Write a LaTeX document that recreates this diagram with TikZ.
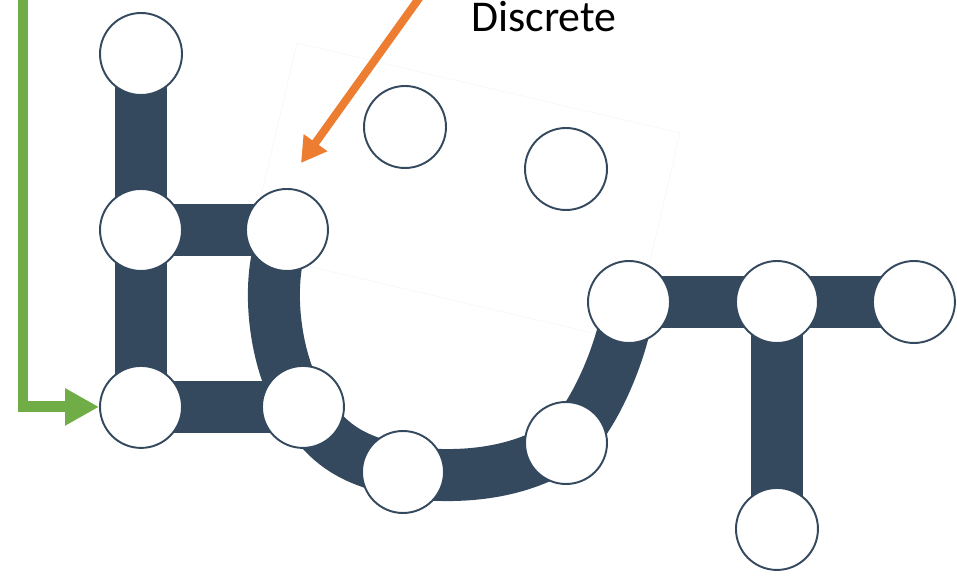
\documentclass[tikz,border=0pt]{standalone}
\usepackage{fontspec}
\setmainfont{Carlito}
\usepackage{tikz}
\usetikzlibrary{positioning,arrows.meta,backgrounds}
\usepackage{xcolor}
\definecolor{bondblue}{HTML}{34495E}
\definecolor{flowgreen}{HTML}{70AD47}
\definecolor{pointorange}{HTML}{ED7D31}
\tikzstyle{atom} = [circle, draw=bondblue, line width=1.1pt, fill=white, minimum size=1.64cm, inner sep=0pt]
\tikzstyle{bond} = [draw, line width=1.04cm, color=bondblue]
\tikzstyle{feed} = [draw, line width=0.22cm, color=flowgreen, -{Triangle[length=0.68cm,width=0.7cm]}]
\tikzstyle{pointer} = [draw, line width=0.16cm, color=pointorange, -{Triangle[length=0.5cm,width=0.55cm]}]
\tikzstyle{frame} = [draw, line width=0.3pt, color=black!4]

\begin{document}
\begin{tikzpicture}[x=0.02cm, y=-0.02cm]
	\useasboundingbox (0,0) rectangle (957,577);
	%% left ladder
	\node[atom] (Top) at (141,54) {};
	\node[atom, below of=Top, node distance=3.52cm] (UL) {};
	\node[atom, below of=UL, node distance=3.54cm] (LL) {};
	\node[atom, right of=UL, node distance=2.92cm] (UR) {};
	\node[atom, right of=LL, node distance=3.24cm] (LR) {};
	%% bottom of the U
	\node[atom] (U1) at (403,472) {};
	\node[atom] (U2) at (566,443) {};
	%% T branch
	\node[atom] (TL) at (629,302) {};
	\node[atom, right of=TL, node distance=2.96cm] (TM) {};
	\node[atom, right of=TM, node distance=2.74cm] (TR) {};
	\node[atom, below of=TM, node distance=4.54cm] (TB) {};
	%% loose atoms
	\node[atom] (D1) at (405,127) {};
	\node[atom] (D2) at (566,169) {};
	%% label
	\node[anchor=base west, font=\fontsize{25}{30}\selectfont] (Lbl) at (465,32) {Discrete};
	%% arrows
	\coordinate (In) at (23,-10);
	\coordinate (Src) at (425,-10);
	\coordinate (Tip) at (301,163);
	\path[feed] (In) |- (LL);
	\path[pointer] (Src) -- (Tip);
	%% bonds
	\begin{pgfonlayer}{background}
	\path[frame] (297,43) -- (680,133) -- (631,342) -- (248,252) -- cycle;
	\path[bond] (Top.center) -- (UL.center) -- (LL.center) -- (LR.center);
	\path[bond] (UL.center) -- (UR.center);
	\path[bond] (UR.center) .. controls +(-22,40) and +(-32,-50) .. (LR.center)
		.. controls +(30,45) and +(-45,-12) .. (U1.center)
		.. controls +(60,8) and +(-45,30) .. (U2.center)
		.. controls +(30,-28) and +(-5,45) .. (TL.center);
	\path[bond] (TL.center) -- (TM.center) -- (TR.center);
	\path[bond] (TM.center) -- (TB.center);
	\end{pgfonlayer}
\end{tikzpicture}
\end{document}
